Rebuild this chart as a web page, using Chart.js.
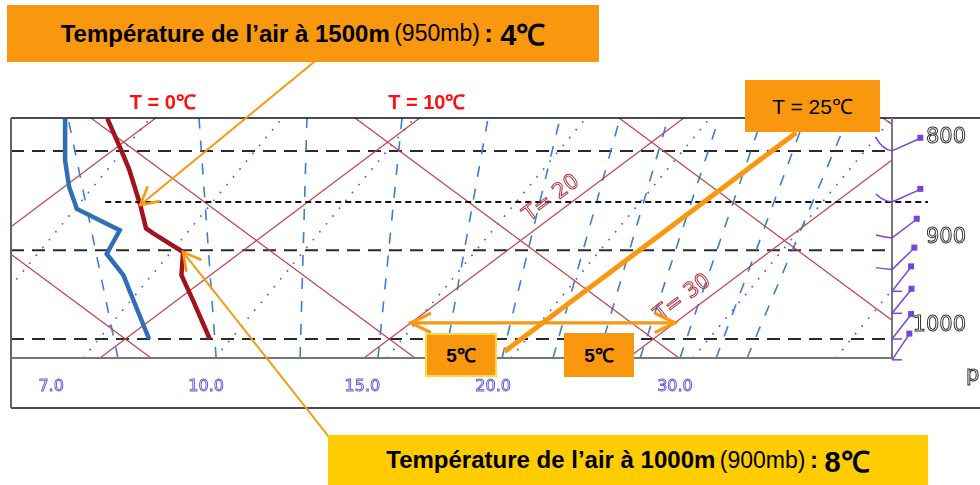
<!DOCTYPE html>
<html><head><meta charset="utf-8">
<script src="https://cdn.jsdelivr.net/npm/chart.js@4/dist/chart.umd.min.js"></script>
<style>
html,body{margin:0;padding:0;background:#fff;}
#wrap{position:relative;width:980px;height:485px;overflow:hidden;font-family:"Liberation Sans",Arial,sans-serif;}
#c{position:absolute;left:0;top:0;}
.box{position:absolute;display:flex;align-items:center;justify-content:center;color:#000;white-space:nowrap;box-sizing:border-box;}
</style></head>
<body><div id="wrap"><canvas id="c" width="980" height="485"></canvas>
<div class="box" style="left:7px;top:5px;width:592px;height:57px;background:#F9980F;">
<span style="font-weight:bold;font-size:24px">Température de l’air à 1500m</span>&nbsp;<span style="font-size:23px">(950mb)</span>&nbsp;<b style="font-size:26px">:&nbsp;</b><b style="font-size:29px">4℃</b></div>
<div class="box" style="left:328px;top:435px;width:600px;height:50px;background:#FFCC00;">
<span style="font-weight:bold;font-size:24px">Température de l’air à 1000m</span>&nbsp;<span style="font-size:23px">(900mb)</span>&nbsp;<b style="font-size:24px">:&nbsp;</b><b style="font-size:29px">8℃</b></div>
<div class="box" style="left:745px;top:80px;width:135px;height:52px;background:#F9980F;font-size:21px;">T = 25℃</div>
<div class="box" style="left:425px;top:333px;width:72px;height:44px;background:#F9980F;border:2px solid #FFD84A;font-size:19px;font-weight:bold;">5℃</div>
<div class="box" style="left:564px;top:333px;width:70px;height:44px;background:#F9980F;font-size:19px;font-weight:bold;">5℃</div>
</div>
<script>
// ---------- data ----------
const tempP = [770, 802, 818, 853, 877, 882, 902, 927, 955, 1000];   // hPa
const tempC = [-1.8, 0.5, 1.6, 3.8, 5.2, 5.7, 7.8, 8.9, 10.6, 13.2];  // °C
const dewP  = [770, 809, 835, 857, 879, 904, 927, 1000];
const dewC  = [-3.4, -1.3, 0.2, 1.6, 4.3, 5.0, 6.7, 10.9];

const isotherms = [-10, 0, 10, 20, 30, 40];          // red, skewed
const dryAdiabats = [0, 10, 20, 30, 40, 50];         // red, value at 1000 hPa
const moistLines = [4, 9, 14, 20.5, 25.2, 32.1, 37.5]; // dotted, value at 1000 hPa
const mixBottom = [9.72, 13.44, 16.62, 19.57, 22.11, 24.27, 26.20, 27.91, 29.50, 31.01, 32.38, 33.55];
const mixTop    = [7.83, 12.79, 16.88, 20.48, 23.74, 26.47, 28.74, 30.56, 32.49, 34.12, 35.75, 37.37];
const mixLabels = ['7.0', '10.0', '15.0', '20.0', '30.0'];
const mixLabelAt = [7.19, 13.06, 18.98, 23.93, 30.82];

const pressureLevels = [800, 900, 1000];
const pressureLabels = ['800', '900', '1000'];
const markedLevel = 850;

const windP = [800, 850, 887, 921, 945, 970, 1000, 1025];
const windAngle = [24, 24, 37, 44, 52, 51, 52, 56];
const windHook = [13, 8, 3, 2, 0, 0, 0, 0];

const isoTopLabels = [0, 10];
const isoInLabels = [{t: 20, p: 858.6}, {t: 30, p: 966.3}];
const highlightT = 25;
const spanT = [20, 30];
const spanP = 981;
const note1 = {t: 3.8, p: 853};
const note2 = {t: 7.8, p: 902};

// ---------- diagram geometry ----------
const SKEW = 42.55, ADIA = 43.1, MOIST = 26.5;
const P_TOP = 769.4, P_BOT = 1022.8, X_MIN = 5.67, X_MAX = 39.04;
const L = p => Math.log(1000 / p);
const skewX = (t, p) => t + SKEW * L(p);

const RED = '#c0404e', BLUE = '#3a7fd0', DOT = '#5b5be8', PURP = '#7b44d9', ORANGE = '#F9980F';

function ds(points, color, width, dash, order) {
  return {data: points, showLine: true, borderColor: color, borderWidth: width, borderDash: dash || [],
          pointRadius: 0, pointHoverRadius: 0, fill: false, tension: 0, order: order};
}
const datasets = [];
isotherms.forEach(t => datasets.push(ds([{x: skewX(t, P_BOT), y: P_BOT}, {x: skewX(t, P_TOP), y: P_TOP}], RED, 1.2, [], 10)));
dryAdiabats.forEach(th => datasets.push(ds([{x: th - ADIA * L(P_BOT), y: P_BOT}, {x: th - ADIA * L(P_TOP), y: P_TOP}], RED, 1.2, [], 10)));
moistLines.forEach(m => datasets.push(ds([{x: m + MOIST * L(P_BOT), y: P_BOT}, {x: m + MOIST * L(P_TOP), y: P_TOP}], DOT, 1.7, [1.7, 8.5], 10)));
mixBottom.forEach((b, i) => datasets.push(ds([{x: b, y: P_BOT}, {x: mixTop[i], y: P_TOP}], BLUE, 1.6, [11, 12], 10)));
datasets.push(ds(dewP.map((p, i) => ({x: skewX(dewC[i], p), y: p})), '#2f6fb5', 4.5, [], 1));
datasets.push(ds(tempP.map((p, i) => ({x: skewX(tempC[i], p), y: p})), '#a3121f', 4.5, [], 0));

function arrowHead(c, x1, y1, x2, y2, len, spread) {
  const a = Math.atan2(y2 - y1, x2 - x1);
  c.beginPath();
  c.moveTo(x2 - len * Math.cos(a - spread), y2 - len * Math.sin(a - spread));
  c.lineTo(x2, y2);
  c.lineTo(x2 - len * Math.cos(a + spread), y2 - len * Math.sin(a + spread));
  c.stroke();
}

const decor = {
  id: 'decor',
  beforeDatasetsDraw(chart) {
    const c = chart.ctx, ys = chart.scales.y, A = chart.chartArea;
    c.save();
    c.strokeStyle = '#2a2a2a'; c.lineWidth = 2; c.setLineDash([13, 8]);
    pressureLevels.forEach(p => { const y = ys.getPixelForValue(p); c.beginPath(); c.moveTo(A.left, y); c.lineTo(A.right, y); c.stroke(); });
    c.restore();
  },
  afterDatasetsDraw(chart) {
    const c = chart.ctx, xs = chart.scales.x, ys = chart.scales.y, A = chart.chartArea;
    c.save();
    // 850 marker line (dotted, black)
    const ym = ys.getPixelForValue(markedLevel);
    c.strokeStyle = '#111'; c.lineWidth = 2; c.setLineDash([6, 4]);
    c.beginPath(); c.moveTo(xs.getPixelForValue(skewX(tempC[3], tempP[3])) - 35, ym); c.lineTo(A.right + 36, ym); c.stroke();
    c.setLineDash([]);
    // frames
    c.strokeStyle = '#111'; c.lineWidth = 1.3;
    c.beginPath(); c.moveTo(A.left, A.top); c.lineTo(980, A.top); c.stroke();
    c.beginPath(); c.moveTo(A.left, 408); c.lineTo(980, 408); c.stroke();
    c.strokeStyle = '#666'; c.lineWidth = 2;
    c.beginPath(); c.moveTo(A.left, A.top); c.lineTo(A.left, 408); c.stroke();
    c.strokeStyle = '#777';
    c.beginPath(); c.moveTo(A.left, A.bottom); c.lineTo(A.right, A.bottom); c.stroke();
    c.beginPath(); c.moveTo(A.right, A.top); c.lineTo(A.right, A.bottom); c.stroke();
    // wind barbs
    c.strokeStyle = PURP; c.fillStyle = PURP; c.lineWidth = 1.5;
    windP.forEach((p, i) => {
      const bx = A.right, by = ys.getPixelForValue(p);
      const a = windAngle[i] * Math.PI / 180, len = 31;
      const ex = bx + len * Math.cos(a), ey = by - len * Math.sin(a);
      c.beginPath(); c.moveTo(bx, by); c.lineTo(ex, ey); c.stroke();
      c.fillRect(ex - 3, ey - 3.5, 6, 6);
      c.beginPath();
      if (windHook[i] > 0) { c.moveTo(bx, by); c.quadraticCurveTo(bx - 9, by - 1, bx - 16, by - windHook[i]); }
      else { c.moveTo(bx, by); c.lineTo(bx + 10, by); }
      c.stroke();
    });
    // pressure labels (right)
    c.font = '21px "DejaVu Sans"'; c.textAlign = 'right'; c.textBaseline = 'middle';
    c.strokeStyle = '#333'; c.lineWidth = 1;
    pressureLevels.forEach((p, i) => c.strokeText(pressureLabels[i], 966, ys.getPixelForValue(p) - 13));
    c.textAlign = 'left'; c.strokeText('p', 966, 376);
    // mixing-ratio labels (bottom panel)
    c.font = '16px "DejaVu Sans"'; c.textAlign = 'center'; c.strokeStyle = '#5a5ad6'; c.lineWidth = 0.9;
    mixLabels.forEach((s, i) => c.strokeText(s, xs.getPixelForValue(mixLabelAt[i]), 387));
    // isotherm labels on the lines
    c.strokeStyle = '#b3303f'; c.lineWidth = 1; c.font = '21px "DejaVu Sans"';
    isoInLabels.forEach(o => {
      const x = xs.getPixelForValue(skewX(o.t, o.p)), y = ys.getPixelForValue(o.p);
      const ang = Math.atan2(ys.getPixelForValue(P_TOP) - ys.getPixelForValue(P_BOT), xs.getPixelForValue(skewX(o.t, P_TOP)) - xs.getPixelForValue(skewX(o.t, P_BOT)));
      c.save(); c.translate(x, y); c.rotate(ang); c.translate(0, -15);
      c.strokeText('T= ' + o.t, 0, 0); c.restore();
    });
    // top isotherm labels
    c.fillStyle = '#ff1010'; c.font = 'bold 20px "Liberation Sans"'; c.textBaseline = 'middle'; c.textAlign = 'center';
    isoTopLabels.forEach(t => c.fillText('T = ' + t + '℃', xs.getPixelForValue(skewX(t, P_TOP)) + 7, 103));
    // highlighted isotherm (T = 25)
    c.strokeStyle = ORANGE; c.lineWidth = 5;
    c.beginPath();
    c.moveTo(xs.getPixelForValue(skewX(highlightT, 1015)), ys.getPixelForValue(1015));
    c.lineTo(xs.getPixelForValue(skewX(highlightT, 783)), ys.getPixelForValue(783));
    c.stroke();
    // 10 °C span double arrow
    const ya = ys.getPixelForValue(spanP);
    const xa1 = xs.getPixelForValue(skewX(spanT[0], spanP)), xa2 = xs.getPixelForValue(skewX(spanT[1], spanP));
    c.lineWidth = 3.2; c.lineCap = 'round';
    c.beginPath(); c.moveTo(xa1, ya); c.lineTo(xa2, ya); c.stroke();
    arrowHead(c, xa2, ya, xa1, ya, 21, 0.45);
    arrowHead(c, xa1, ya, xa2, ya, 21, 0.45);
    // callout arrows
    c.lineWidth = 2;
    const t1x = xs.getPixelForValue(skewX(note1.t, note1.p)), t1y = ys.getPixelForValue(note1.p);
    c.beginPath(); c.moveTo(314, 62); c.lineTo(t1x, t1y); c.stroke();
    c.lineWidth = 2.6; arrowHead(c, 314, 62, t1x, t1y, 19, 0.5);
    const t2x = xs.getPixelForValue(skewX(note2.t, note2.p)), t2y = ys.getPixelForValue(note2.p);
    c.lineWidth = 2;
    c.beginPath(); c.moveTo(329, 437); c.lineTo(t2x, t2y); c.stroke();
    c.lineWidth = 2.6; arrowHead(c, 329, 437, t2x, t2y, 19, 0.5);
    c.restore();
  }
};

new Chart(document.getElementById('c'), {
  type: 'scatter',
  data: {datasets},
  options: {
    responsive: false, animation: false, devicePixelRatio: 1,
    layout: {padding: {left: 11, top: 118, right: 88, bottom: 127}},
    plugins: {legend: {display: false}, tooltip: {enabled: false}},
    events: [],
    scales: {
      x: {type: 'linear', min: X_MIN, max: X_MAX, display: false},
      y: {type: 'logarithmic', min: P_TOP, max: P_BOT, reverse: true, display: false, bounds: 'data'}
    }
  },
  plugins: [decor]
});
</script>
</body></html>
